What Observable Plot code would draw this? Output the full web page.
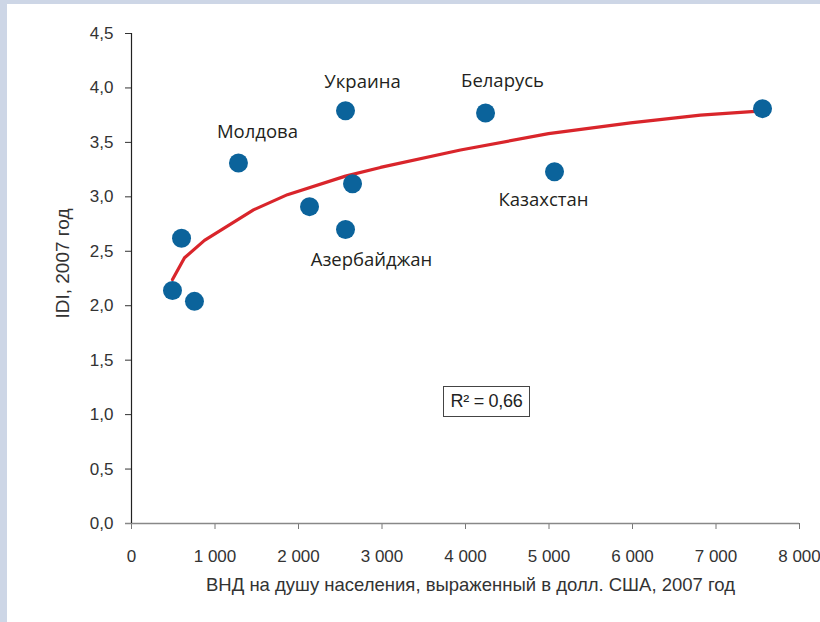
<!DOCTYPE html>
<html><head><meta charset="utf-8">
<script src="https://cdn.jsdelivr.net/npm/d3@7"></script>
<script src="https://cdn.jsdelivr.net/npm/@observablehq/plot@0.6"></script>
<style>
html,body{margin:0;padding:0;width:820px;height:622px;overflow:hidden;background:#cdd6e6;}
#panel{position:absolute;left:7px;top:4px;width:813px;height:618px;background:#fff;}
#chart{position:absolute;left:0;top:0;}
#r2{position:absolute;left:443px;top:386px;width:87px;height:31px;border:1px solid #444;background:#fff;
 font-family:"Liberation Sans",Arial,sans-serif;font-size:18px;color:#222;letter-spacing:-0.3px;
 display:flex;align-items:center;justify-content:center;box-sizing:border-box;}
</style></head>
<body>
<div id="panel"></div>
<div id="chart"></div>
<div id="r2">R² = 0,66</div>
<script>
const countries = ["", "", "", "Молдова", "", "Украина", "", "Азербайджан", "Беларусь", "Казахстан", ""];
const gni = [491, 754, 599, 1281, 2132, 2563, 2647, 2563, 4240, 5066, 7557];
const idi = [2.14, 2.04, 2.62, 3.31, 2.91, 3.79, 3.12, 2.70, 3.77, 3.23, 3.81];
const trendX = [491, 635, 874, 1461, 1868, 2563, 2982, 3940, 4994, 5976, 6814, 7557];
const trendY = [2.24, 2.44, 2.60, 2.88, 3.02, 3.19, 3.27, 3.43, 3.58, 3.68, 3.75, 3.79];
const xTicks = [0, 1000, 2000, 3000, 4000, 5000, 6000, 7000, 8000];
const yTicks = [0, 0.5, 1, 1.5, 2, 2.5, 3, 3.5, 4, 4.5];
const xLabel = "ВНД на душу населения, выраженный в долл. США, 2007 год";
const yLabel = "IDI, 2007 год";

const points = gni.map((g, i) => ({x: g, y: idi[i], name: countries[i]}));
const trend = trendX.map((x, i) => ({x, y: trendY[i]}));
const labelOffsets = {"Молдова": [19, -31], "Украина": [17, -29], "Беларусь": [17, -32], "Казахстан": [-11, 28], "Азербайджан": [26, 31]};

const tickFont = `"Liberation Sans",Arial,sans-serif`;
const labelMarks = points.filter(d => d.name).map(d => Plot.text([d], {
  x: "x", y: "y", text: "name", dx: labelOffsets[d.name][0], dy: labelOffsets[d.name][1],
  fontSize: 18.5, fill: "#231f20", fontFamily: `"Open Sans","Noto Sans",sans-serif`
}));

const chart = Plot.plot({
  width: 820, height: 622,
  marginLeft: 131, marginRight: 21, marginTop: 33, marginBottom: 99,
  style: {background: "transparent", fontFamily: tickFont, fontSize: "17px", color: "#333"},
  x: {domain: [0, 8000]},
  y: {domain: [0, 4.5]},
  marks: [
    Plot.axisX({ticks: xTicks, tickSize: 6, tickPadding: 20, stroke: "#777", label: null,
      tickFormat: d => d3.format(",")(d).replace(/,/g, " "), fontSize: 17, fill: "#333"}),
    Plot.axisY({ticks: yTicks, tickSize: 6, tickPadding: 12, stroke: "#333", label: null,
      tickFormat: d => d.toFixed(1).replace(".", ","), fontSize: 17, fill: "#333"}),
    Plot.ruleY([0], {stroke: "#888", strokeWidth: 1.5, insetLeft: -6}),
    Plot.ruleX([0], {stroke: "#222", strokeWidth: 1.2}),
    Plot.text([xLabel], {frameAnchor: "bottom", dy: 67, dx: 5, fontSize: 18.5, fill: "#333"}),
    Plot.text([yLabel], {frameAnchor: "left", textAnchor: "middle", rotate: -90, dx: -69, dy: -15, fontSize: 19, fill: "#333"}),
    Plot.line(trend, {x: "x", y: "y", stroke: "#d9252b", strokeWidth: 3.2}),
    Plot.dot(points, {x: "x", y: "y", r: 9.5, fill: "#0b639b", stroke: "none"}),
    ...labelMarks
  ]
});
document.getElementById("chart").append(chart);
</script>
</body></html>
